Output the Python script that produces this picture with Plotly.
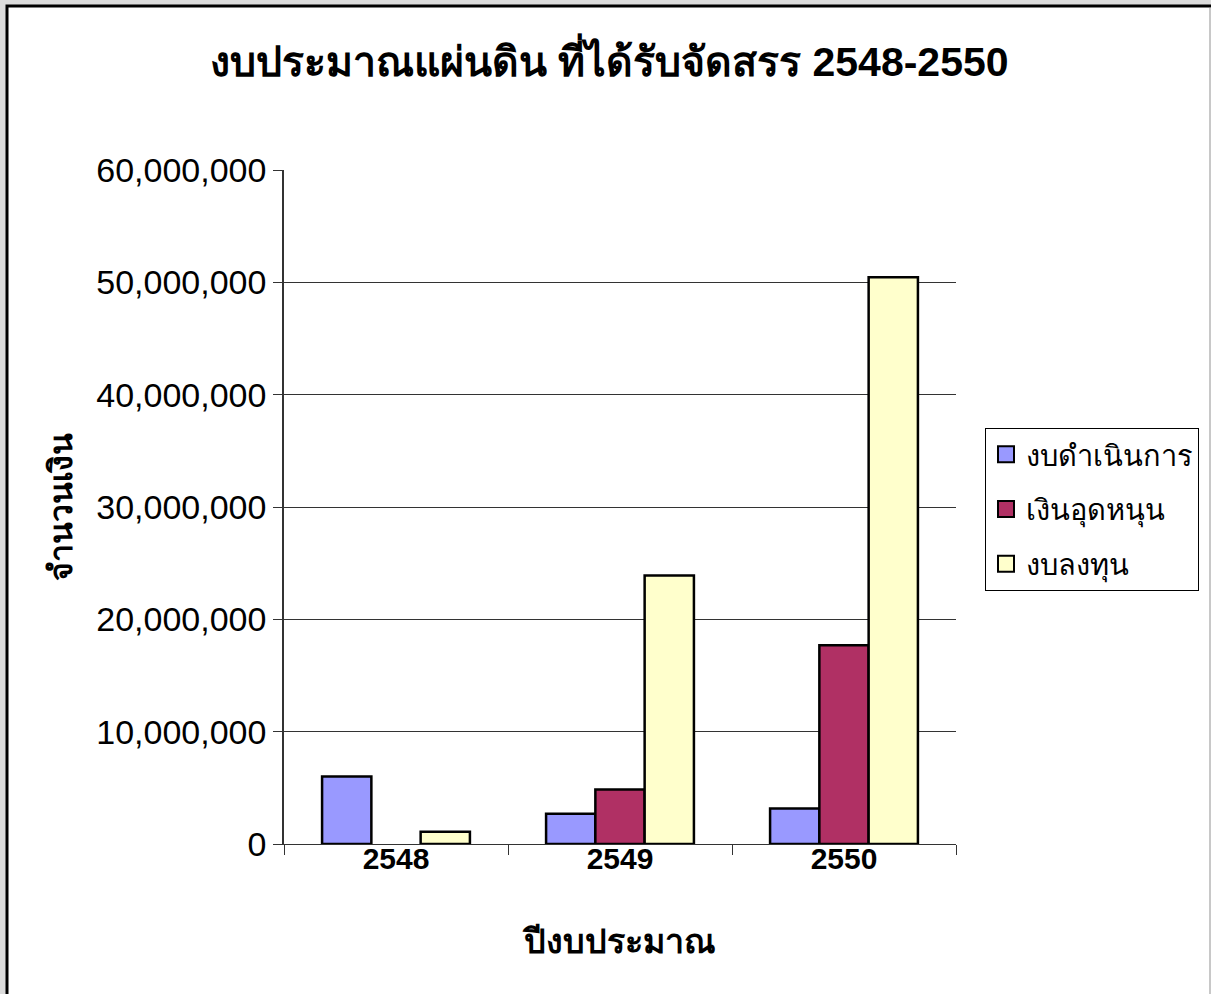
import plotly.graph_objects as go

years = ["2548", "2549", "2550"]
series_names = ["งบดำเนินการ", "เงินอุดหนุน", "งบลงทุน"]
operating = [6000000, 2700000, 3150000]
subsidy = [None, 4850000, 17700000]
investment = [1100000, 23900000, 50450000]
colors = ["#9999FF", "#B03064", "#FFFFCC"]
y_ticks = [0, 10000000, 20000000, 30000000, 40000000, 50000000, 60000000]
y_tick_text = ["0", "10,000,000", "20,000,000", "30,000,000", "40,000,000", "50,000,000", "60,000,000"]

W, H = 1211, 994
L, R, T, B = 284, 956, 170, 844

fig = go.Figure()
for i, (name, vals, col) in enumerate(zip(series_names, [operating, subsidy, investment], colors)):
    fig.add_trace(go.Bar(
        x=years, y=vals, name=name, showlegend=False,
        marker=dict(color=col, line=dict(color="black", width=2.5)),
    ))
# legend entries with larger square swatches
for i, (name, col) in enumerate(zip(series_names, colors)):
    fig.add_trace(go.Scatter(
        x=[None], y=[None], mode="markers", name=name, legendgroup=f"g{i}",
        marker=dict(symbol="square", size=16, color=col, line=dict(color="black", width=2)),
    ))

def px_x(p):
    return (p - L) / (R - L)

def px_y(p):
    return (B - p) / (B - T)

fig.update_layout(
    width=W, height=H,
    margin=dict(l=L, r=W - R, t=T, b=H - B, autoexpand=False),
    paper_bgcolor="#dcdcdc",
    plot_bgcolor="white",
    barmode="group",
    bargap=0.34,
    bargroupgap=0,
    font=dict(family="Arial, Liberation Sans, sans-serif", color="black"),
    title=dict(
        text="<b>งบประมาณแผ่นดิน ที่ได้รับจัดสรร 2548-2550</b>",
        x=0.503, xanchor="center", xref="container",
        y=1 - 62 / H, yanchor="middle", yref="container",
        font=dict(size=41, color="black"),
    ),
    legend=dict(
        x=px_x(985), xanchor="left",
        y=px_y(428), yanchor="top",
        bgcolor="white", bordercolor="black", borderwidth=1,
        font=dict(size=29, color="black"),
        itemsizing="trace",
        itemwidth=30,
        tracegroupgap=14,
    ),
    shapes=[
        dict(type="rect", xref="paper", yref="paper",
             x0=px_x(7), x1=px_x(1230), y0=px_y(1010), y1=px_y(6),
             fillcolor="white", line=dict(color="black", width=3), layer="below"),
        dict(type="line", xref="paper", yref="paper",
             x0=px_x(1210), x1=px_x(1210), y0=px_y(1000), y1=px_y(8),
             line=dict(color="#c8c8c8", width=2), layer="below"),
    ],
)

fig.update_xaxes(
    type="category",
    tickson="boundaries",
    ticks="outside", ticklen=10, tickcolor="#333333", tickwidth=1,
    showline=True, linecolor="#333333", linewidth=1,
    showgrid=False,
    tickfont=dict(size=30, color="black"),
    tickprefix="<b>", ticksuffix="</b>",
    ticklabelstandoff=-12,
    title=dict(text="<b>ปีงบประมาณ</b>", font=dict(size=34, color="black"), standoff=55),
)
fig.update_yaxes(
    range=[0, 60000000],
    tickvals=y_ticks, ticktext=y_tick_text,
    ticks="outside", ticklen=9, tickcolor="#333333", tickwidth=1,
    showline=True, linecolor="#333333", linewidth=1.5,
    showgrid=True, gridcolor="#333333", gridwidth=1,
    zeroline=False,
    tickfont=dict(size=34, color="black"),
    title=dict(text="<b>จำนวนเงิน</b>", font=dict(size=32, color="black"), standoff=14),
)

fig.write_html(
    "out.html",
    config={"displayModeBar": False},
    post_script="document.body.style.margin='0';document.body.style.overflow='hidden';",
)
